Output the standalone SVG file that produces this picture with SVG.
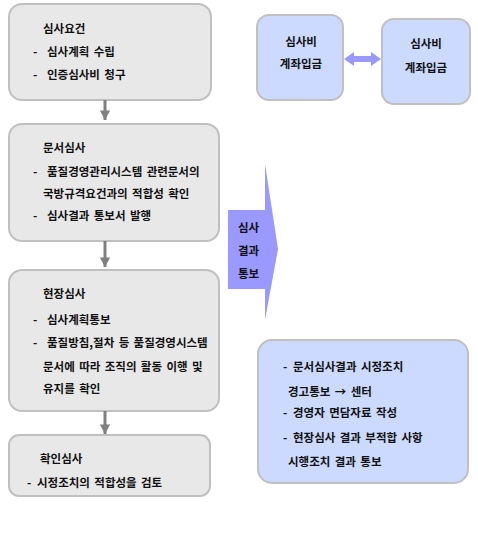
<svg xmlns="http://www.w3.org/2000/svg" width="478" height="556" viewBox="0 0 478 556">
<style>
.g{fill:#e8e8e8;stroke:#c0c0c0;stroke-width:2}
.b{fill:#ccdaff;stroke:#c0c0c0;stroke-width:2}
text{font-family:"Noto Sans CJK KR","Noto Sans",sans-serif;font-size:11.5px;font-weight:bold;fill:#111;word-spacing:1.8px}
.c{stroke:#808080;stroke-width:3;fill:none}
</style>
<defs>
<marker id="ah" markerWidth="4" markerHeight="4" refX="3.2" refY="2" orient="auto" markerUnits="strokeWidth">
<path d="M0,0.3 L3.2,2 L0,3.7 Z" fill="#808080"/>
</marker>
</defs>
<rect width="478" height="556" fill="#fff"/>
<g id="n1">
<rect class="g" x="9" y="4" width="202" height="96" rx="13"/>
<text x="43" y="33">심사요건</text>
<text x="33" y="56">-<tspan x="47">심사계획 수립</tspan></text>
<text x="33" y="79">-<tspan x="47">인증심사비 청구</tspan></text>
</g>
<g id="n2">
<rect class="g" x="9" y="124" width="210" height="117" rx="13"/>
<text x="43" y="152">문서심사</text>
<text x="33" y="176">-<tspan x="47">품질경영관리시스템 관련문서의</tspan></text>
<text x="43" y="198">국방규격요건과의 적합성 확인</text>
<text x="33" y="220">-<tspan x="47">심사결과 통보서 발행</tspan></text>
</g>
<g id="n3">
<rect class="g" x="9" y="270" width="210" height="141" rx="13"/>
<text x="43" y="298">현장심사</text>
<text x="33" y="324">-<tspan x="47">심사계획통보</tspan></text>
<text x="33" y="347">-<tspan x="47">품질방침,절차 등 품질경영시스템</tspan></text>
<text x="43" y="371">문서에 따라 조직의 활동 이행 및</text>
<text x="43" y="393">유지를 확인</text>
</g>
<g id="n4">
<rect class="g" x="9" y="435" width="201" height="61" rx="10"/>
<text x="40" y="463">확인심사</text>
<text x="27" y="487">-<tspan x="37">시정조치의 적합성을 검토</tspan></text>
</g>
<g id="n5">
<rect class="b" x="257" y="15" width="86" height="85" rx="12"/>
<text x="301" y="46" text-anchor="middle">심사비</text>
<text x="301" y="68" text-anchor="middle">계좌입금</text>
</g>
<g id="n6">
<rect class="b" x="382" y="19" width="88" height="85" rx="12"/>
<text x="426" y="48" text-anchor="middle">심사비</text>
<text x="426" y="72" text-anchor="middle">계좌입금</text>
</g>
<g id="n7">
<polygon points="228,210 265,210 265,164 278,249 265,320 265,289 228,289" fill="#9999ff"/>
<text x="238" y="232">심사</text>
<text x="238" y="255">결과</text>
<text x="238" y="278">통보</text>
</g>
<g id="n8">
<rect class="b" x="258" y="340" width="210" height="143" rx="14"/>
<text x="283" y="371">-<tspan x="293">문서심사결과 시정조치</tspan></text>
<text x="288" y="396">경고통보 → 센터</text>
<text x="283" y="417">-<tspan x="293">경영자 면담자료 작성</tspan></text>
<text x="283" y="442">-<tspan x="293">현장심사 결과 부적합 사항</tspan></text>
<text x="288" y="466">시행조치 결과 통보</text>
</g>
<g id="connectors">
<line class="c" x1="105" y1="100" x2="105" y2="120" marker-end="url(#ah)"/>
<line class="c" x1="105" y1="241" x2="105" y2="267" marker-end="url(#ah)"/>
<line class="c" x1="105" y1="411" x2="105" y2="434" marker-end="url(#ah)"/>
<path d="M344,59 L354,52 L354,56 L371,56 L371,52 L381,59 L371,66 L371,62 L354,62 L354,66 Z" fill="#9999ff"/>
</g>
</svg>
